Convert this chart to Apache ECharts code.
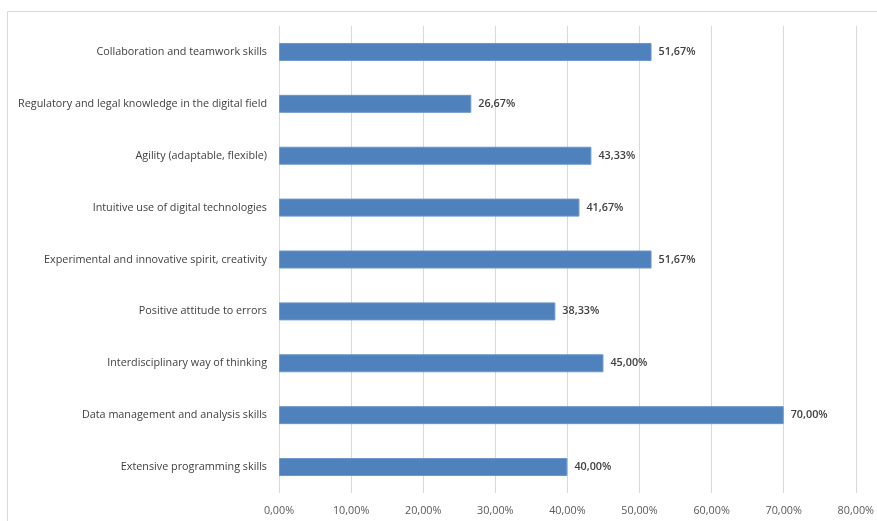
<!DOCTYPE html>
<html>
<head>
<meta charset="utf-8">
<script src="https://cdn.jsdelivr.net/npm/echarts@6/dist/echarts.min.js"></script>
<style>
  html, body { margin: 0; padding: 0; background: #ffffff; }
  #chart { width: 877px; height: 521px; }
</style>
</head>
<body>
<div id="chart"></div>
<script>
// Skills, listed from top to bottom
const categories = [
  'Collaboration and teamwork skills',
  'Regulatory and legal knowledge in the digital field',
  'Agility (adaptable, flexible)',
  'Intuitive use of digital technologies',
  'Experimental and innovative spirit, creativity',
  'Positive attitude to errors',
  'Interdisciplinary way of thinking',
  'Data management and analysis skills',
  'Extensive programming skills'
];
const shares = [51.67, 26.67, 43.33, 41.67, 51.67, 38.33, 45.00, 70.00, 40.00];
const axisMin = 0;
const axisMax = 80;
const axisStep = 10;

const pct = v => v.toFixed(2).replace('.', ',') + '%';
const FONT = '"Open Sans", "Liberation Sans", sans-serif';

const chart = echarts.init(document.getElementById('chart'), null, { renderer: 'canvas' });
chart.setOption({
  backgroundColor: '#ffffff',
  animation: false,
  graphic: [{
    type: 'rect',
    shape: { x: 7.5, y: 11.5, width: 900, height: 600 },
    style: { fill: 'none', stroke: '#d9d9d9', lineWidth: 1 },
    silent: true,
    z: -1
  }],
  grid: { left: 279, right: 20.5, top: 26, bottom: 28, containLabel: false },
  xAxis: {
    type: 'value',
    min: axisMin,
    max: axisMax,
    interval: axisStep,
    axisLine: { show: false },
    axisTick: { show: false },
    axisLabel: {
      formatter: v => pct(v),
      color: '#595959',
      fontFamily: FONT,
      fontSize: 10.8,
      margin: 12
    },
    splitLine: { show: true, lineStyle: { color: '#d9d9d9', width: 1 } }
  },
  yAxis: {
    type: 'category',
    data: categories,
    inverse: true,
    axisLine: { show: false },
    axisTick: { show: false },
    axisLabel: {
      color: '#404040',
      fontFamily: FONT,
      fontSize: 10.8,
      margin: 12
    }
  },
  series: [{
    type: 'bar',
    data: shares,
    barWidth: 18,
    itemStyle: { color: '#4f81bd', borderColor: '#6a96cc', borderWidth: 1 },
    label: {
      show: true,
      position: 'right',
      distance: 7,
      formatter: p => pct(p.value),
      color: '#404040',
      fontFamily: FONT,
      fontSize: 10.8,
      fontWeight: 600
    }
  }]
});
</script>
</body>
</html>
